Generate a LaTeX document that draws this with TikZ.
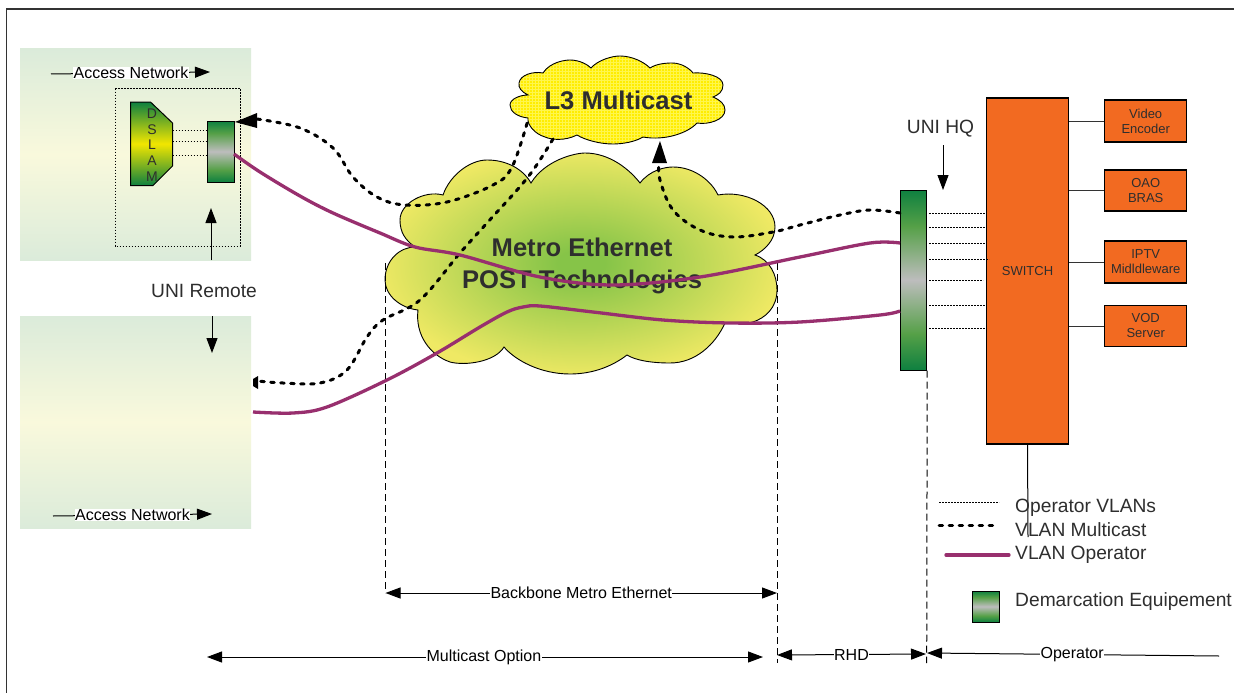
\documentclass[tikz,border=0pt]{standalone}
\usepackage{fontspec}
\setmainfont{Liberation Sans}
\usetikzlibrary{arrows.meta}
\definecolor{dg}{HTML}{0E8040}
\definecolor{mg}{HTML}{55A047}
\definecolor{gr}{HTML}{BDBDBD}
\definecolor{yl}{HTML}{F2E600}
\definecolor{orng}{HTML}{F26A21}
\definecolor{purp}{HTML}{982F6E}
\definecolor{txt}{HTML}{2E2E2E}
\definecolor{pale}{HTML}{DBEBDA}
\definecolor{cream}{HTML}{F9F9DC}
\definecolor{cloudin}{HTML}{86C448}
\definecolor{cloudout}{HTML}{EFE964}
\pgfdeclareverticalshading{barshade}{100bp}{color(0bp)=(dg);color(25bp)=(dg);color(35bp)=(mg);color(50bp)=(gr);color(65bp)=(mg);color(75bp)=(dg);color(100bp)=(dg)}
\pgfdeclareverticalshading{dslamshade}{100bp}{color(0bp)=(dg);color(25bp)=(dg);color(50bp)=(yl);color(75bp)=(dg);color(100bp)=(dg)}
\pgfdeclareradialshading{cloudshade}{\pgfpoint{0bp}{0bp}}{color(0bp)=(cloudin);color(3bp)=(cloudin);color(26bp)=(cloudout);color(50bp)=(cloudout)}
\newcommand{\fs}[1]{\fontsize{#1}{#1}\selectfont}
\tikzset{
  x=1pt,y=-1pt,
  tip/.style={-{Triangle[length=15pt,width=11pt]}},
  twotip/.style={{Triangle[length=15pt,width=11pt]}-{Triangle[length=15pt,width=11pt]}},
  lefttip/.style={{Triangle[length=15pt,width=11pt]}-},
  accessbg/.style={top color=pale,bottom color=pale,middle color=cream,draw=none},
  demarc/.style={draw=black,line width=1pt,shading=barshade,inner sep=0pt},
  obox/.style={draw=black,line width=1.1pt,fill=orng,text=txt,align=center,inner sep=0pt,font=\fs{13}},
  wire/.style={draw=black!80,line width=1pt},
  dotline/.style={black,line width=0.8pt,dash pattern=on 1.6pt off 1.4pt},
  mcast/.style={black,line width=3pt,line cap=round,dash pattern=on 3.6pt off 6.4pt},
  vlan/.style={purp,line width=3.3pt},
  guide/.style={black,line width=1pt,dash pattern=on 7pt off 4pt},
  dim/.style={black,line width=1pt},
  lab/.style={text=black,fill=white,inner sep=0.5pt,font=\fs{16}},
  big/.style={text=txt,font=\fs{19.2},inner sep=0pt},
  leg/.style={text=txt,font=\fs{19.2},inner sep=0pt,anchor=base west},
  cloudtxt/.style={text=txt,font=\bfseries\fs{25.6},inner sep=0pt},
}
\begin{document}
\begin{tikzpicture}
\useasboundingbox (0,0) rectangle (1234,693);
\fill[white] (0,0) rectangle (1234,693);
\draw[black!80,line width=1.3pt] (6.5,693) -- (6.5,9) -- (1234,9);

% access networks
\path[accessbg] (20,49) rectangle (251,260);
\path[accessbg] (20,316) rectangle (251,528);

% access network dimension labels
\coordinate (an1a) at (51,74); \coordinate (an1b) at (210,72);
\draw[dim,tip] (an1a) -- (an1b) node[lab,pos=0.503] (an1) {Access Network};
\coordinate (an2a) at (53,516); \coordinate (an2b) at (212,514);
\draw[dim,tip] (an2a) -- (an2b) node[lab,pos=0.5] (an2) {Access Network};

% DSLAM group
\draw[dotline,line width=1pt] (115,88.5) rectangle (240.5,246);
\draw[black,line width=1pt,shading=dslamshade] (130.5,102) -- (150.5,102) -- (172.5,123) -- (172.5,166) -- (153,185.5) -- (130.5,185.5) -- cycle;
\node[text=txt,font=\fs{14},align=center,inner sep=0pt] (dslam) at (152,145) {D\\[1.6pt]S\\[1.6pt]L\\[1.6pt]A\\[1.6pt]M};
\node[demarc,minimum width=27pt,minimum height=61pt] (rbar) at (220.5,151.5) {};
\draw[dotline] (172.5,130) -- (207,130);
\draw[dotline] (172.5,141.5) -- (207,141.5);
\draw[dotline] (172.5,155.5) -- (207,155.5);

% UNI remote
\node[big] (uniremote) at (204,290.5) {UNI Remote};
\coordinate (ua1) at (211,260); \coordinate (ua2) at (211,208);
\draw[dim,tip] (ua1) -- (ua2);
\coordinate (ub1) at (212,316); \coordinate (ub2) at (212,353);
\draw[dim,tip] (ub1) -- (ub2);

% Metro cloud
\draw[black,line width=0.9pt,shading=cloudshade]
  (531,183) .. controls (545,160) and (575,153) .. (585,153)
  .. controls (610,153) and (630,170) .. (640,183)
  .. controls (650,170) and (665,167) .. (673,167)
  .. controls (695,167) and (712,182) .. (718,195)
  .. controls (745,190) and (775,205) .. (775,227)
  .. controls (775,240) and (765,250) .. (755,255)
  .. controls (770,260) and (777,275) .. (777,290)
  .. controls (777,308) and (765,318) .. (753,322)
  .. controls (745,324) and (735,323) .. (725,323)
  .. controls (715,345) and (695,363) .. (670,363)
  .. controls (650,363) and (635,360) .. (627,355)
  .. controls (610,368) and (590,374) .. (570,374)
  .. controls (540,374) and (515,360) .. (504,347)
  .. controls (495,362) and (465,366) .. (450,362)
  .. controls (430,355) and (415,335) .. (418,310)
  .. controls (400,308) and (385,295) .. (385,280)
  .. controls (385,260) and (400,247) .. (415,247)
  .. controls (405,240) and (400,232) .. (400,220)
  .. controls (400,203) and (425,190) .. (443,195)
  .. controls (450,175) and (470,160) .. (487,160)
  .. controls (510,160) and (525,172) .. (531,183) -- cycle;

\node[cloudtxt] (metro1) at (582,247) {Metro Ethernet};
\node[cloudtxt] (metro2) at (582,281.5) {POST Technologies};

% L3 cloud
\def\lthree{(543,73)
  .. controls (550,62) and (565,60) .. (570,60)
  .. controls (580,60) and (588,65) .. (591,68)
  .. controls (598,60) and (612,56) .. (620,56)
  .. controls (632,56) and (644,62) .. (650,68)
  .. controls (656,64) and (665,63) .. (672,63)
  .. controls (682,63) and (690,69) .. (693,73)
  .. controls (705,72) and (723,76) .. (723,85)
  .. controls (723,92) and (718,95) .. (713,97)
  .. controls (720,100) and (725,104) .. (725,110)
  .. controls (725,120) and (708,125) .. (697,123)
  .. controls (688,133) and (665,141) .. (643,137)
  .. controls (635,142) and (622,144) .. (613,144)
  .. controls (600,144) and (585,140) .. (577,135)
  .. controls (565,141) and (552,140) .. (545,137)
  .. controls (535,134) and (527,125) .. (528,118)
  .. controls (518,117) and (510,112) .. (510,105)
  .. controls (510,99) and (520,95) .. (528,95)
  .. controls (522,92) and (518,88) .. (519,83)
  .. controls (520,75) and (533,71) .. (543,73) -- cycle}
\fill[yellow!95!orange] \lthree;
\begin{scope}
\clip \lthree;
\foreach \i in {0,...,75}{\draw[yellow!70!white,line width=0.6pt] (505+3*\i,50) -- (505+3*\i,150);}
\foreach \i in {0,...,34}{\draw[yellow!70!white,line width=0.6pt] (505,50+3*\i) -- (730,50+3*\i);}
\end{scope}
\draw[black,line width=0.9pt] \lthree;
\node[cloudtxt] (l3) at (618.5,100.5) {L3 Multicast};

% guides
\coordinate (g1a) at (385.5,263); \coordinate (g1b) at (385.5,593);
\coordinate (g2a) at (777,263); \coordinate (g2b) at (777,663);
\coordinate (g3b) at (926.7,663);
\draw[guide] (g1a) -- (g1b);
\draw[guide] (g2a) -- (g2b);

% UNI HQ bar
\node[demarc,minimum width=26pt,minimum height=180pt] (hbar) at (913.7,280) {};
\draw[guide] (hbar.south east) -- (g3b);

% switch and servers
\node[obox,minimum width=82pt,minimum height=346pt] (switch) at (1027.5,271) {SWITCH};
\node[obox,minimum width=82pt,minimum height=42pt] (video) at (1145.7,121) {Video\\[2pt]Encoder};
\node[obox,minimum width=82pt,minimum height=41pt] (oao) at (1145.7,190.5) {OAO\\[2pt]BRAS};
\node[obox,minimum width=82pt,minimum height=42pt] (iptv) at (1145.7,262) {IPTV\\[2pt]Midldleware};
\node[obox,minimum width=82pt,minimum height=41pt] (vod) at (1145.7,326) {VOD\\[2pt]Server};
\foreach \n in {video,oao,iptv,vod}{\draw[wire] (\n.west) -- (\n.west -| switch.east);}
\coordinate (swend) at (1028,537);
\draw[wire,black] (switch.south) -- (swend);

% HQ dotted
\foreach \y/\xe in {213/986,227/986,243/986,259.5/989,280/983,305.5/986,328.5/986}{\draw[dotline] (929,\y) -- (\xe,\y);}

\node[big] (unihq) at (940.5,129) {UNI HQ};
\coordinate (ha) at (943,145); \coordinate (hb) at (943,190);
\draw[dim,tip] (ha) -- (hb);

% multicast VLANs
\draw[mcast] plot[smooth,tension=0.6] coordinates {(257,119) (300,128) (333,148) (353,177) (377,197) (405,205) (447,202) (493,185) (512,167) (528,120)};
\fill[black] (235,122) -- (257,113) -- (257,128) -- cycle;
\draw[mcast] plot[smooth,tension=0.6] coordinates {(553,139) (528,177) (487,223) (460,253) (420,300) (383,320) (367,337) (347,370) (320,383) (283,383) (258,381)};
\fill[black] (253,379) -- (258,376) -- (258,389) -- (253,386) -- cycle;
\draw[mcast] plot[smooth,tension=0.6] coordinates {(900,213) (870,210) (840,215) (800,225) (773,232) (733,237) (700,230) (673,210) (660,180) (659,163)};
\fill[black] (660,141) -- (667,163) -- (652,163) -- cycle;

% operator VLANs
\draw[vlan] plot[smooth,tension=0.55] coordinates {(234,154) (260,172) (300,196) (333,213) (380,233) (415,247) (460,255) (540,277) (613,285) (700,277) (800,257) (870,243) (900,243)};
\draw[vlan] plot[smooth,tension=0.55] coordinates {(253,412) (293,413) (327,407) (387,380) (437,353) (480,327) (507,312) (523,307) (540,306) (593,312) (663,320) (730,323) (800,322) (880,315) (900,311)};

% dimension lines
\draw[dim,twotip] (g1b) -- (g2b |- g1b) node[lab,pos=0.5] (bb) {Backbone Metro Ethernet};
\coordinate (m1) at (207,657); \coordinate (m2) at (763,657);
\draw[dim,twotip] (m1) -- (m2) node[lab,pos=0.498] (mo) {Multicast Option};
\coordinate (r1) at (777,655); \coordinate (r2) at (926,654);
\draw[dim,twotip] (r1) -- (r2) node[lab,pos=0.5] (rhd) {RHD};
\coordinate (o1) at (927,653); \coordinate (o2) at (1219,656);
\draw[dim,lefttip] (o1) -- (o2) node[lab,pos=0.497] (op) {Operator};

% legend
\coordinate (l1a) at (939,502); \coordinate (l1b) at (999,502);
\draw[dotline,line width=0.6pt] (l1a) -- (l1b);
\coordinate (l2a) at (939,525); \coordinate (l2b) at (997,525);
\draw[mcast] (l2a) -- (l2b);
\coordinate (l3a) at (946,555); \coordinate (l3b) at (1009,555);
\draw[vlan,line cap=round] (l3a) -- (l3b);
\node[leg] (t1) at (1015,512.5) {Operator VLANs};
\node[leg] (t2) at (1015,536) {VLAN Multicast};
\node[leg] (t3) at (1015,559.5) {VLAN Operator};
\node[leg] (t4) at (1015,606.5) {Demarcation Equipement};
\node[demarc,minimum width=27pt,minimum height=31pt] (sq) at (985.5,606.5) {};
\end{tikzpicture}
\end{document}
